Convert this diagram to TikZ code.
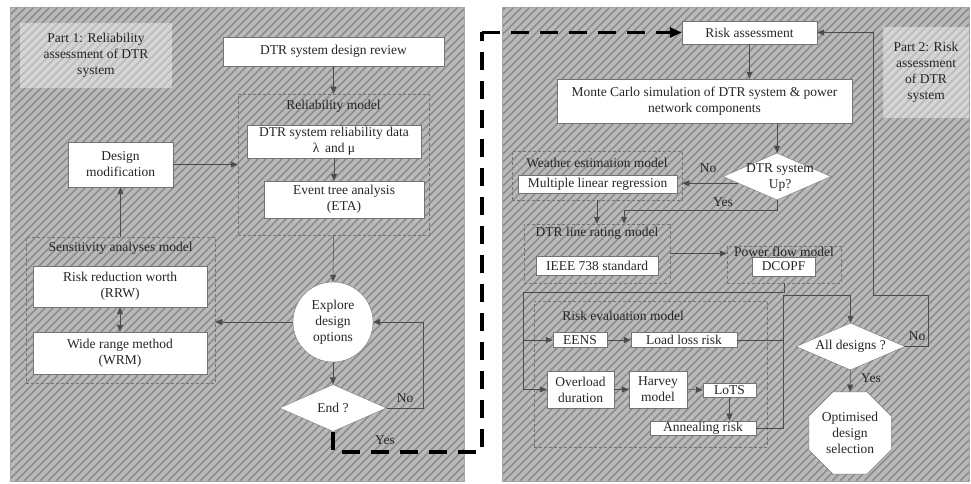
\documentclass[tikz,border=0pt]{standalone}
\usepackage{fontspec}
\setmainfont{Liberation Serif}
\usetikzlibrary{arrows.meta,shapes.geometric}
\tikzset{
  every node/.style={text=black!85,align=center,font=\fontsize{13.5}{16}\selectfont},
  box/.style={draw=black!55,fill=white,line width=0.4pt,inner sep=1pt},
  group/.style={draw=black!55,dashed,dash pattern=on 3pt off 2pt,line width=0.5pt,inner sep=0pt},
  decision/.style={diamond,draw=black!55,fill=white,inner sep=0pt},
  conn/.style={draw=black!70,line width=0.5pt},
  arr/.style={conn,-{Triangle[length=7pt,width=6pt]}},
  yesjump/.style={draw=black,line width=3.4pt,dash pattern=on 18pt off 11pt},
  hatchline/.style={black!45,line width=1.6pt},
  partbox/.style={fill=white,fill opacity=0.4,draw=none,text opacity=1}
}
\begin{document}
\begin{tikzpicture}[x=1pt,y=-1pt]
\useasboundingbox (0,0) rectangle (971,484);
% hatched panels
\foreach \l/\r in {10/464,502/969}{
  \fill[black!27] (\l,7) rectangle (\r,481);
  \begin{scope}
    \clip (\l,7) rectangle (\r,481);
    \foreach \s in {-480,-472,...,970} \draw[hatchline] (\s,481) -- ++(474,-474);
  \end{scope}
  \draw[black!35] (\l,7) rectangle (\r,481);
}
\node[partbox,minimum width=152,minimum height=65] (part1) at (96,55.5) {Part 1: Reliability\\assessment of DTR\\system};
\node[partbox,minimum width=86,minimum height=91] (part2) at (926,72.5) {Part 2: Risk\\assessment\\of DTR\\system};

% part 1
\node[group,minimum width=191,minimum height=141] (relmodel) at (333.5,164.5) {};
\node (relmodeltxt) at (333.5,106) {Reliability model};
\node[group,minimum width=189,minimum height=146] (sensmodel) at (120.5,310) {};
\node (sensmodeltxt) at (120.5,248) {Sensitivity analyses model};

\node[box,minimum width=221,minimum height=29] (review) at (333.5,51.5) {DTR system design review};
\node[box,minimum width=174,minimum height=33] (reldata) at (334,141.5) {DTR system reliability data\\λ\, and μ};
\node[box,minimum width=160,minimum height=37] (eta) at (344,199.5) {Event tree analysis\\(ETA)};
\node[box,minimum width=105,minimum height=45] (designmod) at (120.5,164.5) {Design\\modification};
\node[box,minimum width=174,minimum height=41] (rrw) at (120,286.5) {Risk reduction worth\\(RRW)};
\node[box,minimum width=174,minimum height=42] (wrm) at (120,353) {Wide range method\\(WRM)};
\node[box,circle,minimum size=80] (explore) at (333,322) {Explore\\design\\options};
\node[decision,minimum width=107,minimum height=47] (end) at (333,408) {};
\node (endtxt) at (end) {End ?};

\draw[arr] (review.south) -- (relmodel.north);
\draw[arr] (reldata.south) -- (reldata.south |- eta.north);
\draw[arr] (designmod.east) -- (designmod.east -| relmodel.west);
\draw[arr] (sensmodel.north) -- (designmod.south);
\draw[conn,{Triangle[length=7pt,width=6pt]}-{Triangle[length=7pt,width=6pt]}] (rrw.south) -- (wrm.north);
\draw[arr] (relmodel.south) -- (explore.north);
\draw[arr] (explore.west) -- (explore.west -| sensmodel.east);
\draw[arr] (explore.south) -- (end.north);
\draw[arr] (end.east) -- ++(37,0) |- (explore.east);
\node (endno) at (405,398) {No};

% jump to part 2
\coordinate (jumplow) at (482,452);
\coordinate (jumphigh) at (482,32.5);
\node (endyes) at (385,440) {Yes};

% part 2
\node[group,minimum width=170,minimum height=49] (weather) at (597,175.5) {};
\node (weathertxt) at (597,163) {Weather estimation model};
\node[group,minimum width=146,minimum height=59] (dtrlr) at (597,253.5) {};
\node (dtrlrtxt) at (597,233) {DTR line rating model};
\node[group,minimum width=114,minimum height=37] (powerflow) at (784,264.5) {};
\node (powerflowtxt) at (784,252) {Power flow model};
\node[group,minimum width=233,minimum height=146] (riskeval) at (650.5,374) {};
\node (riskevaltxt) at (623,316) {Risk evaluation model};

\node[box,minimum width=135,minimum height=23] (riskass) at (749.5,32.5) {Risk assessment};
\node[box,minimum width=295,minimum height=44] (montecarlo) at (704.5,101) {Monte Carlo simulation of DTR system \& power\\network components};
\node[decision,minimum width=108,minimum height=47] (dtrup) at (777,176.5) {};
\node (dtruptxt) at (780,178) {DTR system\\Up?};
\node[box,minimum width=159,minimum height=18] (mlr) at (597.5,184) {Multiple linear regression};
\node[box,minimum width=122,minimum height=19] (ieee) at (597,265.5) {IEEE 738 standard};
\node[box,minimum width=63,minimum height=19] (dcopf) at (783.5,266.5) {DCOPF};
\node[box,minimum width=54,minimum height=15] (eens) at (580,340) {EENS};
\node[box,minimum width=106,minimum height=15] (loadloss) at (684,340) {Load loss risk};
\node[box,minimum width=67,minimum height=37] (overload) at (580.5,389.5) {Overload\\duration};
\node[box,minimum width=58,minimum height=37] (harvey) at (658,389.5) {Harvey\\model};
\node[box,minimum width=53,minimum height=14] (lots) at (729.5,390) {LoTS};
\node[box,minimum width=106,minimum height=14] (annealing) at (703,428) {Annealing risk};
\node[decision,minimum width=109,minimum height=47] (alldesigns) at (850.5,346.5) {};
\node (alldesignstxt) at (alldesigns) {All designs ?};
\node[box,regular polygon,regular polygon sides=8,minimum size=87] (optimised) at (850,433) {Optimised\\design\\selection};

\draw[yesjump] (end.south) |- (jumplow) -- (jumphigh);
\draw[yesjump,-{Triangle[length=12pt,width=10pt]}] (jumphigh) -- (riskass.west);
\draw[arr] (riskass.south) -- (riskass.south |- montecarlo.north);
\draw[arr] (dtrup.north |- montecarlo.south) -- (dtrup.north);
\draw[arr] (dtrup.190) -- (dtrup.190 -| weather.east);
\node (upno) at (708,168) {No};
\coordinate (yesbend) at (624,210);
\draw[arr] (dtrup.south) |- (yesbend) -- (yesbend |- dtrlr.north);
\node (upyes) at (723,202) {Yes};
\draw[arr] (weather.south) -- (dtrlr.north);
\draw[arr] (dtrlr.east) -- (dtrlr.east -| powerflow.west);
\coordinate (bus) at (523,292);
\draw[arr] (powerflow.south) |- (bus) |- (overload.west);
\draw[arr] (bus |- eens.west) -- (eens.west);
\draw[arr] (eens.east) -- (loadloss.west);
\draw[arr] (overload.east) -- (harvey.west);
\draw[arr] (harvey.east) -- (lots.west);
\draw[arr] (lots.south) -- (lots.south |- annealing.north);
\coordinate (riskbus) at (783,295);
\draw[arr] (loadloss.east) -| (riskbus) -| (alldesigns.north);
\draw[conn] (annealing.east) -| (riskbus);
\coordinate (nobend) at (928,295);
\coordinate (noup) at (873,295);
\draw[arr] (alldesigns.east) -| (nobend) -- (noup) |- (riskass.east);
\node (allno) at (917,336) {No};
\draw[arr] (alldesigns.south) -- (optimised.north);
\node (allyes) at (871,378) {Yes};
\end{tikzpicture}
\end{document}
